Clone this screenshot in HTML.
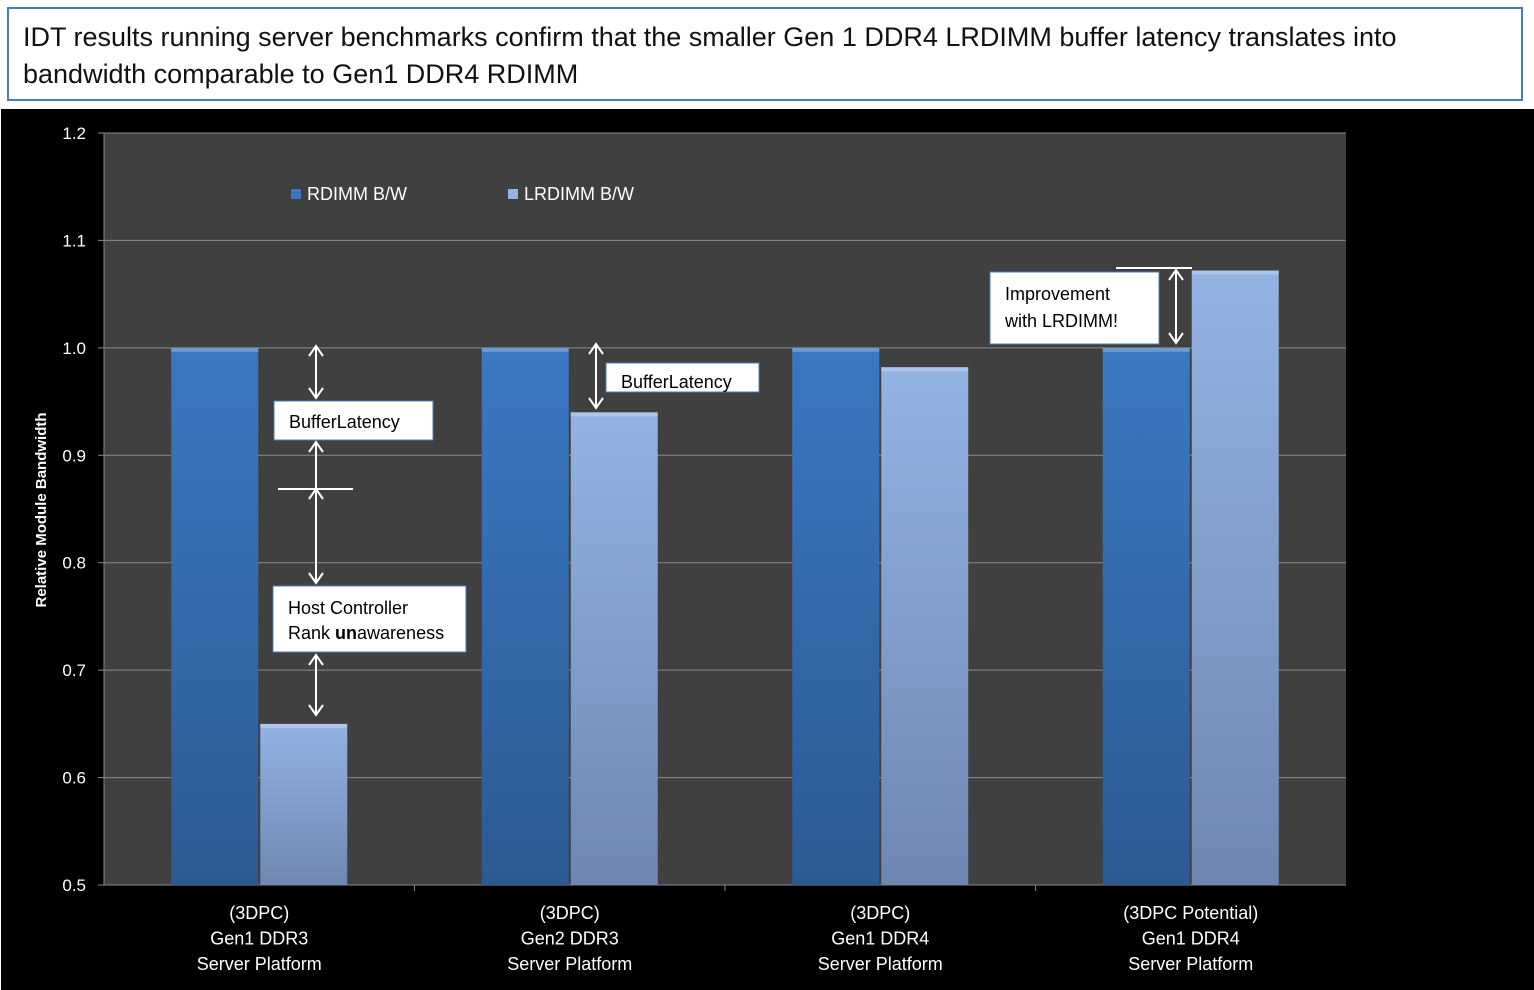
<!DOCTYPE html>
<html><head><meta charset="utf-8">
<style>
body{margin:0;width:1534px;height:990px;background:#fff;overflow:hidden;font-family:"Liberation Sans",sans-serif;}
#title{position:absolute;left:7px;top:7px;width:1516px;height:94px;border:2px solid #4a7ebb;box-sizing:border-box;font-size:27px;line-height:37px;padding:10px 14px;color:#111;}
svg{position:absolute;left:0;top:0;}
</style></head><body>
<div id="title">IDT results running server benchmarks confirm that the smaller Gen 1 DDR4 LRDIMM buffer latency translates into bandwidth comparable to Gen1 DDR4 RDIMM</div>
<svg id="chart" width="1534" height="990">
<defs>
<linearGradient id="g1" x1="0" y1="0" x2="0" y2="1"><stop offset="0" stop-color="#3b78c2"/><stop offset="1" stop-color="#2c5a94"/></linearGradient>
<linearGradient id="g2" x1="0" y1="0" x2="0" y2="1"><stop offset="0" stop-color="#93b3e3"/><stop offset="1" stop-color="#6f87b0"/></linearGradient>
</defs>
<rect x="1" y="109" width="1533" height="881" fill="#000"/>
<rect x="104" y="133" width="1242" height="752" fill="#404040"/>
<g id="grid"></g><g id="bars"></g><g id="labels"></g>
<text transform="translate(46,510) rotate(-90)" text-anchor="middle" fill="#fff" font-size="15" font-weight="bold">Relative Module Bandwidth</text>
<g>
<rect x="291" y="189" width="10" height="10" fill="#3b78c2"/>
<text x="307" y="200" fill="#fff" font-size="18">RDIMM B/W</text>
<rect x="508" y="189" width="10" height="10" fill="#93b3e3"/>
<text x="524" y="200" fill="#fff" font-size="18">LRDIMM B/W</text>
</g>
<g stroke="#fff" stroke-width="2" fill="none">
<path d="M316 346V398M309 356L316 346L323 356M309 388L316 398L323 388"/>
<path d="M316 442V488M309 452L316 442L323 452"/>
<path d="M278 489H353"/>
<path d="M316 489V583M309 499L316 489L323 499M309 573L316 583L323 573"/>
<path d="M316 655V715M309 665L316 655L323 665M309 705L316 715L323 705"/>
<path d="M596 344V408M589 354L596 344L603 354M589 398L596 408L603 398"/>
<path d="M1116 268H1192M1176 270V343M1169 280L1176 270L1183 280M1169 333L1176 343L1183 333"/>
</g>
<g font-size="18" fill="#000">
<rect x="274" y="401" width="159" height="39" fill="#fff" stroke="#4a7ebb"/>
<text x="289" y="428">BufferLatency</text>
<rect x="273" y="586" width="193" height="66" fill="#fff" stroke="#4a7ebb"/>
<text x="288" y="614">Host Controller</text>
<text x="288" y="639">Rank <tspan font-weight="bold">un</tspan>awareness</text>
<rect x="606" y="363" width="153" height="29" fill="#fff" stroke="#4a7ebb"/>
<text x="621" y="388">BufferLatency</text>
<rect x="990" y="272" width="169" height="72" fill="#fff" stroke="#4a7ebb"/>
<text x="1005" y="300">Improvement</text>
<text x="1005" y="327">with LRDIMM!</text>
</g>
</svg>
<script>
const categories=[["(3DPC)","Gen1 DDR3","Server Platform"],["(3DPC)","Gen2 DDR3","Server Platform"],["(3DPC)","Gen1 DDR4","Server Platform"],["(3DPC Potential)","Gen1 DDR4","Server Platform"]];
const rdimm=[1.0,1.0,1.0,1.0];
const lrdimm=[0.65,0.94,0.982,1.072];
const yTicks=[0.5,0.6,0.7,0.8,0.9,1.0,1.1,1.2];
const NS="http://www.w3.org/2000/svg";
const X0=104,W=1242,Y0=885,Y1=133,ymin=0.5,ymax=1.2;
const y=v=>Y0-(v-ymin)/(ymax-ymin)*(Y0-Y1);
const gw=W/categories.length;
const gx=i=>X0+gw*(i+0.5);
function mk(t,a,p){const e=document.createElementNS(NS,t);for(const k in a)e.setAttribute(k,a[k]);p.appendChild(e);return e;}
const grid=document.getElementById('grid'),bars=document.getElementById('bars'),labels=document.getElementById('labels');
yTicks.forEach(v=>{
 const l=mk('line',{x1:X0-6,x2:X0+W,y1:y(v),y2:y(v),stroke:v===ymin?'#888':'#8a8a8a','stroke-width':1},grid);
 
 
 const t=mk('text',{x:X0-18,y:y(v)+6,'text-anchor':'end',fill:'#fff','font-size':17},labels);
 t.textContent=v.toFixed(1);
 
 
});
mk('line',{x1:X0,x2:X0,y1:Y1,y2:Y0,stroke:'#888'},grid);
for(let i=1;i<categories.length;i++){mk('line',{x1:X0+gw*i,x2:X0+gw*i,y1:Y0,y2:Y0+6,stroke:'#888'},grid);}
const bw=87;
categories.forEach((c,i)=>{
 [[rdimm,'url(#g1)',-bw-1,'bar-rdimm'],[lrdimm,'url(#g2)',1,'bar-lrdimm']].forEach(([s,f,off,n])=>{
  const r=mk('rect',{x:gx(i)+off,y:y(s[i]),width:bw,height:Y0-y(s[i]),fill:f},bars);
  
  
  mk('rect',{x:gx(i)+off,y:y(s[i]),width:bw,height:4,fill:'rgba(255,255,255,0.25)'},bars);
 });
 c.forEach((line,j)=>{
  const t=mk('text',{x:gx(i),y:Y0+34+j*25.5,'text-anchor':'middle',fill:'#fff','font-size':18},labels);
  t.textContent=line;
  
  
 });
});
</script>
</body></html>
